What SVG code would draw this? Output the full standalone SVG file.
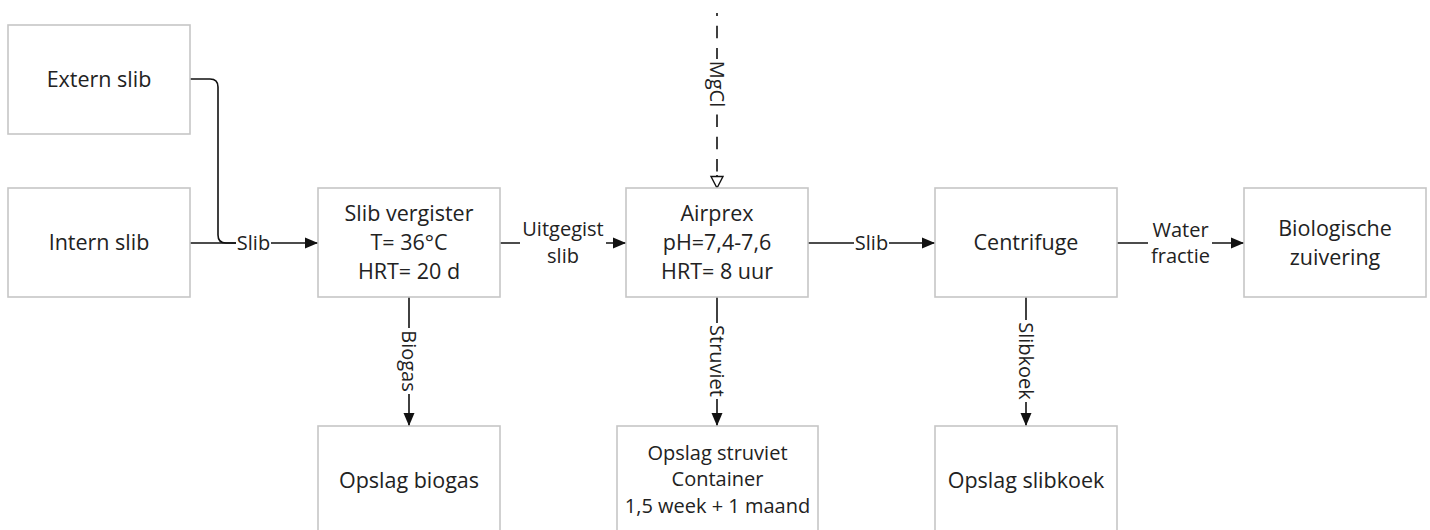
<svg xmlns="http://www.w3.org/2000/svg" width="1430" height="530" viewBox="0 0 1430 530">
<style>
  .box { fill: #ffffff; stroke: #c6c6c6; stroke-width: 1.6; }
  .nt { font-family: 'Open Sans', 'DejaVu Sans', sans-serif; font-size: 21.5px; fill: #222222; text-anchor: middle; }
  .nts { font-size: 20px; }
  .lbl { font-family: 'Open Sans', 'DejaVu Sans', sans-serif; font-size: 20px; fill: #222222; text-anchor: middle; }
  .bg { fill: #ffffff; stroke: none; }
  .con { fill: none; stroke: #111111; stroke-width: 1.6; }
  .dash { stroke-dasharray: 12.5 9.7; stroke-dashoffset: 9.5; }
</style>
<defs>
  <marker id="arr" markerUnits="userSpaceOnUse" markerWidth="14" markerHeight="12" refX="13" refY="6" orient="auto">
    <path d="M0,0.5 L13,6 L0,11.5 z" fill="#111111"/>
  </marker>
  <marker id="arrOpen" markerUnits="userSpaceOnUse" markerWidth="16" markerHeight="16" refX="13" refY="7" orient="auto">
    <path d="M1.5,1 L13,7 L1.5,13 z" fill="#ffffff" stroke="#111111" stroke-width="1.4"/>
  </marker>
</defs>

<g id="connectors">
  <path class="con" d="M190,79 H210 Q218,79 218,87 V235 Q218,243 226,243 H240"/>
  <path class="con" d="M190,243 H318" marker-end="url(#arr)"/>
  <path class="con" d="M500,243 H626" marker-end="url(#arr)"/>
  <path class="con" d="M808,243 H935" marker-end="url(#arr)"/>
  <path class="con" d="M1117,243 H1244" marker-end="url(#arr)"/>
  <path class="con" d="M409,297 V426" marker-end="url(#arr)"/>
  <path class="con" d="M717,297 V426" marker-end="url(#arr)"/>
  <path class="con" d="M1026,297 V426" marker-end="url(#arr)"/>
  <path class="con dash" d="M717,13 V177"/>
  <path class="con" d="M717,175 V188" stroke="none" marker-end="url(#arrOpen)"/>

  <g id="lbl-slib1">
    <rect class="bg" x="236" y="232" width="35" height="22"/>
    <text class="lbl" x="253.5" y="250">Slib</text>
  </g>
  <g id="lbl-uitgegist">
    <rect class="bg" x="520" y="220" width="86" height="50"/>
    <text class="lbl" x="563" y="236">Uitgegist</text>
    <text class="lbl" x="563" y="263">slib</text>
  </g>
  <g id="lbl-slib2">
    <rect class="bg" x="854" y="232" width="35" height="22"/>
    <text class="lbl" x="871.5" y="250">Slib</text>
  </g>
  <g id="lbl-water">
    <rect class="bg" x="1148" y="220" width="64" height="50"/>
    <text class="lbl" x="1180.5" y="237">Water</text>
    <text class="lbl" x="1180.5" y="263">fractie</text>
  </g>
  <g id="lbl-mgcl" transform="translate(717,84) rotate(90)">
    <rect class="bg" x="-25" y="-10" width="50" height="20"/>
    <text class="lbl" x="0" y="0" dy="0.36em">MgCl</text>
  </g>
  <g id="lbl-biogas" transform="translate(409,361) rotate(90)">
    <rect class="bg" x="-33" y="-10" width="66" height="20"/>
    <text class="lbl" x="0" y="0" dy="0.36em">Biogas</text>
  </g>
  <g id="lbl-struviet" transform="translate(717,361) rotate(90)">
    <rect class="bg" x="-38" y="-10" width="76" height="20"/>
    <text class="lbl" x="0" y="0" dy="0.36em">Struviet</text>
  </g>
  <g id="lbl-slibkoek" transform="translate(1026,361) rotate(90)">
    <rect class="bg" x="-41" y="-10" width="82" height="20"/>
    <text class="lbl" x="0" y="0" dy="0.36em">Slibkoek</text>
  </g>
</g>

<g id="extern-slib">
  <rect class="box" x="8" y="25" width="182" height="109"/>
  <text class="nt" x="99" y="87">Extern slib</text>
</g>
<g id="intern-slib">
  <rect class="box" x="8" y="188" width="182" height="109"/>
  <text class="nt" x="99" y="250">Intern slib</text>
</g>
<g id="slib-vergister">
  <rect class="box" x="318" y="188" width="182" height="109"/>
  <text class="nt" x="409" y="221">Slib vergister</text>
  <text class="nt" x="409" y="250">T= 36°C</text>
  <text class="nt" x="409" y="279">HRT= 20 d</text>
</g>
<g id="airprex">
  <rect class="box" x="626" y="188" width="182" height="109"/>
  <text class="nt" x="717" y="221">Airprex</text>
  <text class="nt" x="717" y="250">pH=7,4-7,6</text>
  <text class="nt" x="717" y="279">HRT= 8 uur</text>
</g>
<g id="centrifuge">
  <rect class="box" x="935" y="188" width="182" height="109"/>
  <text class="nt" x="1026" y="250">Centrifuge</text>
</g>
<g id="biologische-zuivering">
  <rect class="box" x="1244" y="188" width="182" height="109"/>
  <text class="nt" x="1335" y="236">Biologische</text>
  <text class="nt" x="1335" y="265">zuivering</text>
</g>
<g id="opslag-biogas">
  <rect class="box" x="318" y="426" width="182" height="110"/>
  <text class="nt" x="409" y="488">Opslag biogas</text>
</g>
<g id="opslag-struviet">
  <rect class="box" x="617" y="426" width="201" height="110"/>
  <text class="nt nts" x="717.5" y="460">Opslag struviet</text>
  <text class="nt nts" x="717.5" y="486">Container</text>
  <text class="nt nts" x="717.5" y="513">1,5 week + 1 maand</text>
</g>
<g id="opslag-slibkoek">
  <rect class="box" x="935" y="426" width="182" height="110"/>
  <text class="nt" x="1026" y="488">Opslag slibkoek</text>
</g>
</svg>
